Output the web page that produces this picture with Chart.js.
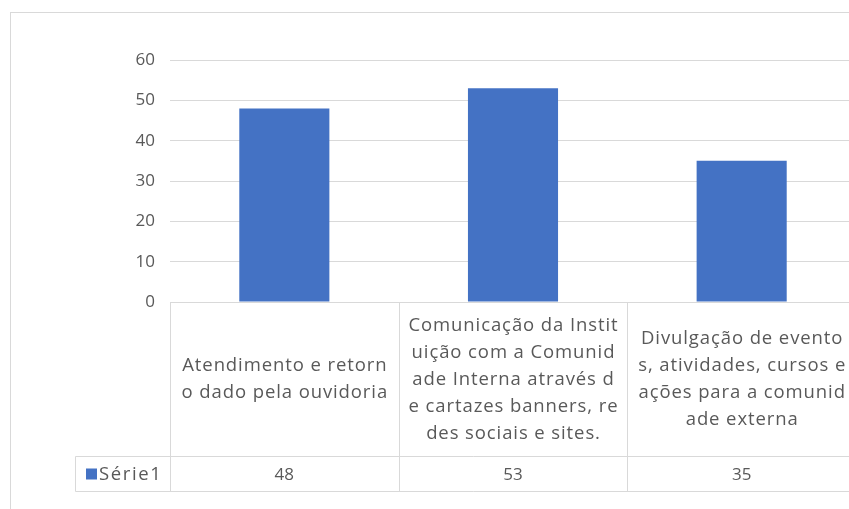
<!DOCTYPE html>
<html>
<head>
<meta charset="utf-8">
<script src="https://cdn.jsdelivr.net/npm/chart.js@4/dist/chart.umd.min.js"></script>
<style>
  html, body { margin: 0; padding: 0; background: #ffffff; overflow: hidden; }
  #wrap { width: 870px; height: 509px; }
</style>
</head>
<body>
<div id="wrap"><canvas id="c" width="870" height="509"></canvas></div>
<script>
// Category labels, wrapped the way the data table shows them
const categoryLines = [
  ["Atendimento e retorn", "o dado pela ouvidoria"],
  ["Comunicação da Instit", "uição com a Comunid", "ade Interna através d", "e cartazes banners, re", "des sociais e sites."],
  ["Divulgação de evento", "s, atividades, cursos e", "ações para a comunid", "ade externa"]
];
const categories = categoryLines.map(l => l.join(""));
const seriesName = "Série1";
const seriesValues = [48, 53, 35];
const yTicks = [0, 10, 20, 30, 40, 50, 60];

const BAR_COLOR = "#4472C4";
const LINE_COLOR = "#d9d9d9";
const TEXT_COLOR = "#595959";
const FONT = "Open Sans, Noto Sans, sans-serif";

// Chart frame and the data table drawn beneath the plot area
const dataTablePlugin = {
  id: "dataTable",
  beforeDraw(chart) {
    const ctx = chart.ctx;
    ctx.save();
    ctx.fillStyle = "#ffffff";
    ctx.fillRect(0, 0, chart.width, chart.height);
    ctx.strokeStyle = LINE_COLOR;
    ctx.lineWidth = 1;
    ctx.strokeRect(10.5, 12.5, chart.width + 20, chart.height + 20);
    ctx.restore();
  },
  afterDraw(chart) {
    const ctx = chart.ctx;
    const xs = chart.scales.x;
    const area = chart.chartArea;
    const n = categories.length;
    const cw = (area.right - area.left) / n;
    const top = Math.round(area.bottom) + 0.5;
    const headerH = 154;
    const rowH = 35;
    const mid = top + headerH;
    const bot = mid + rowH;
    const legendLeft = 75.5;

    ctx.save();
    ctx.strokeStyle = LINE_COLOR;
    ctx.lineWidth = 1;
    ctx.beginPath();
    // horizontal rules
    ctx.moveTo(area.left, top); ctx.lineTo(area.right + 20, top);
    ctx.moveTo(legendLeft, mid); ctx.lineTo(area.right + 20, mid);
    ctx.moveTo(legendLeft, bot); ctx.lineTo(area.right + 20, bot);
    // vertical rules
    for (let i = 0; i < n; i++) {
      const x = Math.round(area.left + i * cw) + 0.5;
      ctx.moveTo(x, top); ctx.lineTo(x, bot);
    }
    ctx.moveTo(legendLeft, mid); ctx.lineTo(legendLeft, bot);
    ctx.stroke();

    ctx.fillStyle = TEXT_COLOR;
    ctx.textAlign = "center";
    ctx.textBaseline = "middle";
    const lh = 27;
    const headerMid = top + headerH / 2;
    categoryLines.forEach((lines, i) => {
      const cx = xs.getPixelForValue(i);
      const y0 = headerMid - (lines.length - 1) * lh / 2;
      ctx.font = "18.5px " + FONT;
      ctx.letterSpacing = "0.9px";
      lines.forEach((t, k) => ctx.fillText(t, cx + 0.5, y0 + k * lh));
      ctx.font = "17px " + FONT;
      ctx.letterSpacing = "0px";
      ctx.fillText(String(seriesValues[i]), cx, mid + rowH / 2 + 1);
    });

    // series key
    ctx.fillStyle = BAR_COLOR;
    ctx.fillRect(86, mid + 12, 11, 11);
    ctx.fillStyle = TEXT_COLOR;
    ctx.textAlign = "left";
    ctx.font = "18.5px " + FONT;
    ctx.letterSpacing = "1.6px";
    ctx.fillText(seriesName, 99, mid + rowH / 2 + 1);
    ctx.restore();
  }
};

new Chart(document.getElementById("c"), {
  type: "bar",
  data: {
    labels: categories,
    datasets: [{
      label: seriesName,
      data: seriesValues,
      backgroundColor: BAR_COLOR,
      borderWidth: 0,
      barPercentage: 0.394,
      categoryPercentage: 1
    }]
  },
  options: {
    responsive: false,
    devicePixelRatio: 1,
    animation: false,
    layout: { padding: { left: 10, top: 60, right: 14, bottom: 207 } },
    plugins: {
      legend: { display: false },
      tooltip: { enabled: false }
    },
    scales: {
      x: {
        grid: { display: false },
        border: { display: false },
        ticks: { display: false },
        afterFit(s) { s.height = 0; }
      },
      y: {
        min: yTicks[0],
        max: yTicks[yTicks.length - 1],
        afterBuildTicks(s) { s.ticks = yTicks.map(v => ({ value: v })); },
        ticks: {
          color: TEXT_COLOR,
          font: { family: FONT, size: 17 },
          padding: 15
        },
        grid: { color: LINE_COLOR, drawTicks: false },
        border: { display: false },
        afterFit(s) { s.width = 160; }
      }
    }
  },
  plugins: [dataTablePlugin]
});
</script>
</body>
</html>
